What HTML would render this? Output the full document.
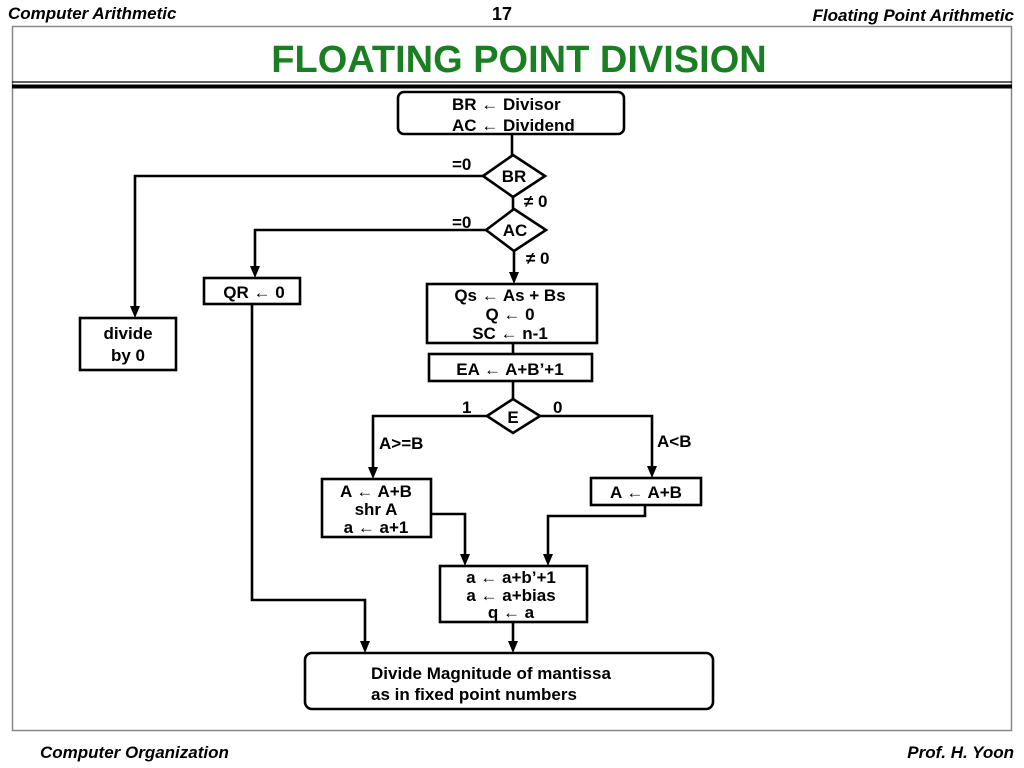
<!DOCTYPE html>
<html><head><meta charset="utf-8"><style>
html,body{margin:0;padding:0;background:#fff;}
svg{display:block;}
text{font-family:"Liberation Sans",sans-serif;font-weight:bold;fill:#000;}
</style></head><body>
<svg width="1024" height="768" viewBox="0 0 1024 768" xmlns="http://www.w3.org/2000/svg">
<defs><marker id="a" markerWidth="10" markerHeight="10" refX="5" refY="9" orient="auto" markerUnits="userSpaceOnUse">
<path d="M1,0 L5,10 L9,0 Z" fill="#000"/></marker>
<marker id="ad" viewBox="0 0 10 12" markerWidth="9" markerHeight="11" refX="5" refY="11" orient="0" markerUnits="userSpaceOnUse"><path d="M0,0 L5,12 L10,0 Z" fill="#000"/></marker></defs>
<text x="8" y="19" font-size="17" font-style="italic">Computer Arithmetic</text>
<text x="502" y="20" font-size="18" text-anchor="middle">17</text>
<text x="1014" y="21" font-size="17" font-style="italic" text-anchor="end">Floating Point Arithmetic</text>
<rect x="12.5" y="26.5" width="999" height="704" fill="none" stroke="#888" stroke-width="1.5"/>
<text x="519" y="72" font-size="38" text-anchor="middle" style="fill:#1a7f22">FLOATING  POINT  DIVISION</text>
<line x1="12" y1="82" x2="1012" y2="82" stroke="#000" stroke-width="1.2"/>
<line x1="12" y1="86.5" x2="1012" y2="86.5" stroke="#000" stroke-width="4"/>
<g fill="none" stroke="#000" stroke-width="2.6">
<rect x="398" y="92" width="226" height="42" rx="6"/>
<polygon points="483,176 513,155 545,176 513,197"/>
<polygon points="486,230 514,209 546,230 514,251"/>
<rect x="80" y="318" width="96" height="52"/>
<rect x="204" y="278" width="96" height="26"/>
<rect x="427" y="284" width="170" height="59"/>
<rect x="429" y="354" width="163" height="27"/>
<polygon points="487,416 513,399 540,416 513,433"/>
<rect x="322" y="479" width="109" height="58"/>
<rect x="591" y="478" width="110" height="27"/>
<rect x="440" y="566" width="147" height="56"/>
<rect x="305" y="653" width="408" height="56" rx="7"/>
<line x1="512" y1="134" x2="512" y2="155"/>
<polyline points="483,176 135,176 135,308"/>
<line x1="513" y1="197" x2="513" y2="209"/>
<polyline points="486,230 255,230 255,268"/>
<line x1="514" y1="251" x2="514" y2="274"/>
<line x1="513" y1="343" x2="513" y2="354"/>
<line x1="513" y1="381" x2="513" y2="399"/>
<polyline points="487,416 373,416 373,467"/>
<polyline points="540,416 652,416 652,467"/>
<polyline points="431,514 465,514 465,555"/>
<polyline points="645,505 645,516 548,516 548,555"/>
<line x1="513" y1="622" x2="513" y2="643"/>
<polyline points="252,304 252,600 365,600 365,643"/>
</g>
<g fill="#000">
<path d="M130,306 L135,318 L140,306Z"/>
<path d="M250,266 L255,278 L260,266Z"/>
<path d="M509,272 L514,284 L519,272Z"/>
<path d="M368,467 L373,479 L378,467Z"/>
<path d="M647,466 L652,478 L657,466Z"/>
<path d="M460,554 L465,566 L470,554Z"/>
<path d="M543,554 L548,566 L553,554Z"/>
<path d="M508,641 L513,653 L518,641Z"/>
<path d="M360,641 L365,653 L370,641Z"/>
</g>
<g font-size="17">
<text x="452" y="110">BR ← Divisor</text>
<text x="452" y="131">AC ← Dividend</text>
<text x="452" y="170">=0</text>
<text x="514" y="182" text-anchor="middle">BR</text>
<text x="524" y="207">≠ 0</text>
<text x="452" y="228">=0</text>
<text x="515" y="236" text-anchor="middle">AC</text>
<text x="526" y="264">≠ 0</text>
<text x="128" y="339" text-anchor="middle">divide</text>
<text x="128" y="361" text-anchor="middle">by 0</text>
<text x="254" y="298" text-anchor="middle">QR ← 0</text>
<text x="510" y="301" text-anchor="middle">Qs ← As + Bs</text>
<text x="510" y="320" text-anchor="middle">Q ← 0</text>
<text x="510" y="339" text-anchor="middle">SC ← n-1</text>
<text x="510" y="375" text-anchor="middle">EA ← A+B’+1</text>
<text x="462" y="413">1</text>
<text x="553" y="413">0</text>
<text x="513" y="423" text-anchor="middle">E</text>
<text x="379" y="449">A&gt;=B</text>
<text x="657" y="447">A&lt;B</text>
<text x="376" y="497" text-anchor="middle">A ← A+B</text>
<text x="376" y="515" text-anchor="middle">shr A</text>
<text x="376" y="533" text-anchor="middle">a ← a+1</text>
<text x="646" y="498" text-anchor="middle">A ← A+B</text>
<text x="511" y="583" text-anchor="middle">a ← a+b’+1</text>
<text x="511" y="601" text-anchor="middle">a ← a+bias</text>
<text x="511" y="618" text-anchor="middle">q ← a</text>
<text x="371" y="679">Divide Magnitude of mantissa</text>
<text x="371" y="700">as in fixed point numbers</text>
</g>
<text x="40" y="758" font-size="17" font-style="italic">Computer Organization</text>
<text x="1014" y="758" font-size="17" font-style="italic" text-anchor="end">Prof.  H. Yoon</text>
</svg>
</body></html>
